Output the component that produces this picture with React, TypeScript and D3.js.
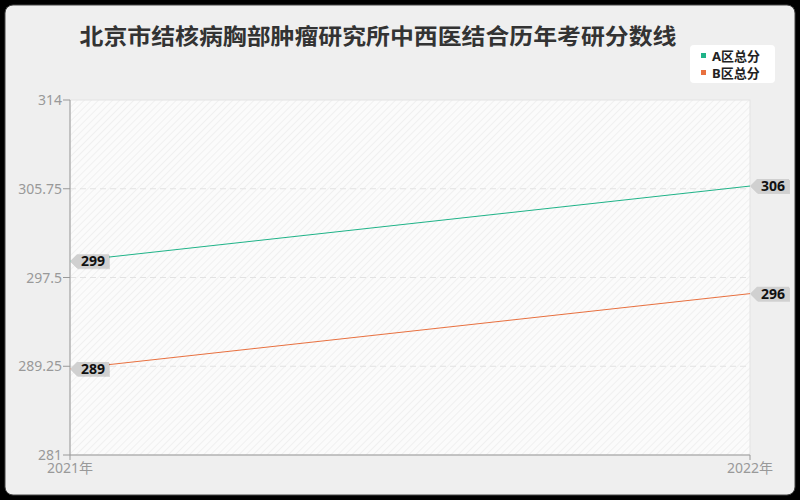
import React from "react";
import * as d3 from "d3";

const title = "北京市结核病胸部肿瘤研究所中西医结合历年考研分数线";
const years = ["2021年", "2022年"];
const seriesNames = ["A区总分", "B区总分"];
const seriesA = [299, 306];
const seriesB = [289, 296];
const yTicks = [281, 289.25, 297.5, 305.75, 314];
const colors = ["#1fb388", "#e8703f"];

const W = 800, H = 500;
const M = { left: 70, right: 750, top: 100, bottom: 455 };

export default function App() {
  const x = d3.scalePoint<string>().domain(years).range([M.left, M.right]);
  const y = d3.scaleLinear().domain([281, 314]).range([M.bottom, M.top]);
  const series = [seriesA, seriesB];
  const line = d3
    .line<number>()
    .x((_, i) => x(years[i]) as number)
    .y((d) => y(d));
  const font = "'Noto Sans', 'Noto Sans CJK SC', sans-serif";

  const tag = (px: number, py: number, text: string, key: string) => {
    const h = 14, w = 32, a = 7;
    const p = `M${px},${py} L${px + a},${py - h / 2} L${px + a + w},${py - h / 2} L${px + a + w},${py + h / 2} L${px + a},${py + h / 2} Z`;
    return (
      <g key={key}>
        <path d={p} transform="translate(1,1)" fill="rgba(0,0,0,0.12)" />
        <path d={p} fill="#d0d0d0" />
        <text x={px + a + w / 2} y={py + 5} textAnchor="middle" fontSize={14} fontWeight="bold" fill="#111" fontFamily={font}>
          {text}
        </text>
      </g>
    );
  };

  return (
    <svg width={W} height={H} style={{ position: "absolute", left: 0, top: 0 }}>
      <defs>
        <pattern id="hatch" width="5" height="5" patternUnits="userSpaceOnUse" patternTransform="rotate(45)">
          <rect width="5" height="5" fill="#fbfbfb" />
          <line x1="0" y1="0" x2="0" y2="5" stroke="#f0f0f0" strokeWidth="2" />
        </pattern>
      </defs>
      <rect x={0} y={0} width={W} height={H} fill="#000" />
      <rect x={5} y={5} width={790} height={490} rx={8} fill="#efefef" stroke="#444" strokeWidth={1} />
      <text x={378} y={44} textAnchor="middle" fontSize={22} fontWeight="bold" fill="#333" fontFamily={font} textLength={597} lengthAdjust="spacingAndGlyphs">
        {title}
      </text>

      {/* legend */}
      <rect x={690} y={45} width={85} height={38} rx={4} fill="#fff" />
      {seriesNames.map((n, i) => (
        <g key={n}>
          <rect x={701} y={53 + i * 17} width={5} height={5} fill={colors[i]} />
          <text x={712} y={60.5 + i * 17} fontSize={13} fontWeight="bold" fill="#222" fontFamily={font}>
            {n}
          </text>
        </g>
      ))}

      {/* plot bg */}
      <rect x={M.left} y={M.top} width={M.right - M.left} height={M.bottom - M.top} fill="url(#hatch)" stroke="#e3e3e3" strokeWidth={1} />
      {yTicks.slice(1, -1).map((t) => (
        <line key={t} x1={M.left} x2={M.right} y1={y(t)} y2={y(t)} stroke="#e2e2e2" strokeDasharray="6,4" strokeWidth={1.2} />
      ))}

      {/* axes */}
      <line x1={M.left} x2={M.left} y1={M.top} y2={M.bottom} stroke="#999" />
      <line x1={M.left} x2={M.right} y1={M.bottom} y2={M.bottom} stroke="#999" />
      {yTicks.map((t) => (
        <g key={t}>
          <line x1={M.left - 7} x2={M.left} y1={y(t)} y2={y(t)} stroke="#999" />
          <text x={M.left - 8} y={y(t) + 5} textAnchor="end" fontSize={14} fill="#999" fontFamily={font}>
            {t}
          </text>
        </g>
      ))}
      {years.map((yr) => (
        <g key={yr}>
          <line x1={x(yr)} x2={x(yr)} y1={M.bottom} y2={M.bottom + 5} stroke="#999" />
          <text x={x(yr)} y={M.bottom + 18} textAnchor="middle" fontSize={14} fill="#999" fontFamily={font}>
            {yr}
          </text>
        </g>
      ))}

      {series.map((s, i) => (
        <path key={i} d={line(s) || ""} fill="none" stroke={colors[i]} strokeWidth={1} />
      ))}
      {series.map((s, i) =>
        s.map((v, j) => tag(x(years[j]) as number, y(v), String(v), `${i}-${j}`))
      )}
    </svg>
  );
}
